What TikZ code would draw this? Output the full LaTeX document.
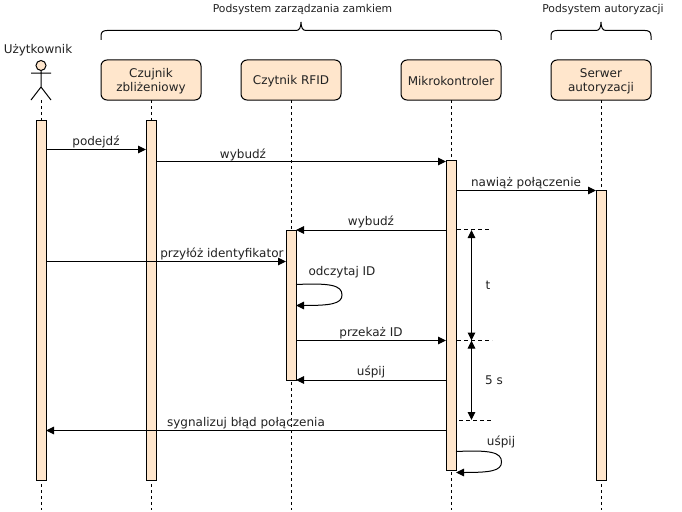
\documentclass[tikz,border=0pt]{standalone}
\usepackage{fontspec}
\setmainfont{DejaVu Sans}
\usetikzlibrary{arrows.meta,calc}
\definecolor{peach}{HTML}{FFE6CC}
\definecolor{ink}{HTML}{222222}
\newcommand\lowered[1]{\raisebox{0pt}[\dimexpr\height+3pt\relax][\depth]{#1}}
\tikzset{
  x=1pt,y=-1pt,
  every node/.style={font=\fontsize{12}{14}\selectfont,text=ink,inner sep=0pt,outer sep=0pt},
  lbl/.style={anchor=center,align=center},
  small/.style={font=\fontsize{10.8}{13}\selectfont},
  box/.style={draw=black,fill=peach,rounded corners=6pt,minimum width=100pt,minimum height=40pt,align=center,line width=1pt},
  bar/.style={draw=black,fill=peach,minimum width=10pt,line width=1pt},
  life/.style={dashed,dash pattern=on 3pt off 3pt,line width=1pt},
  msg/.style={-{Triangle[length=8pt,width=7.5pt]},line width=1pt},
  dbl/.style={{Triangle[length=8pt,width=7.5pt]}-{Triangle[length=8pt,width=7.5pt]},line width=1pt},
  guide/.style={dashed,dash pattern=on 4pt off 3pt,line width=1pt},
  brace/.style={line width=1pt},
  over/.style={above=2pt},
}
\begin{document}
\begin{tikzpicture}
\useasboundingbox (0,0) rectangle (682,511);
\fill[white] (0,0) rectangle (682,511);
% lifeline ends
\coordinate (e1) at (41,510); \coordinate (e2) at (151,510); \coordinate (e3) at (291,510);
\coordinate (e4) at (451,510); \coordinate (e5) at (601,510);
% head boxes
\node[box] (czujnik) at (151,80) {\lowered{Czujnik}\\zbliżeniowy};
\node[box] (rfid) at (291,80) {\lowered{Czytnik RFID}};
\node[box] (mikro) at (451,80) {\lowered{Mikrokontroler}};
\node[box] (serwer) at (601,80) {\lowered{Serwer}\\autoryzacji};
% actor
\node[lbl] (user) at (38,50.5) {Użytkownik};
\node[draw=black,fill=peach,circle,minimum size=10pt,line width=1pt] (head) at (41,65.5) {};
\coordinate (hip) at (41,87);
\coordinate (armL) at (31,73); \coordinate (armR) at (51,73);
\coordinate (legL) at (31,100); \coordinate (legR) at (51,100);
\coordinate (foot) at (41,100);
\draw[line width=1pt] (head.south) -- (hip) (armL) -- (armR) (legL) -- (hip) -- (legR);
% lifelines
\draw[life] (foot) -- (e1);
\draw[life] (czujnik.south) -- (e2);
\draw[life] (rfid.south) -- (e3);
\draw[life] (mikro.south) -- (e4);
\draw[life] (serwer.south) -- (e5);
% activations
\node[bar,minimum height=360pt] (a1) at (41,300) {};
\node[bar,minimum height=360pt] (a2) at (151,300) {};
\node[bar,minimum height=150pt] (a3) at (291,305) {};
\node[bar,minimum height=310pt] (a4) at (451,315) {};
\node[bar,minimum height=290pt] (a5) at (601,335) {};
% rows
\coordinate (r1) at (0,149.5); \coordinate (r2) at (0,161.5); \coordinate (r3) at (0,190.5);
\coordinate (r4) at (0,230); \coordinate (r5) at (0,261.5); \coordinate (r6) at (0,340.5);
\coordinate (r7) at (0,380); \coordinate (r8) at (0,430.5);
% messages
\draw[msg] (a1.east |- r1) -- node[over] {podejdź} (a2.west |- r1);
\draw[msg] (a2.east |- r2) -- node[above=1pt,pos=.30] {wybudź} (a4.west |- r2);
\draw[msg] (a4.east |- r3) -- node[over] {nawiąż połączenie} (a5.west |- r3);
\draw[msg] (a4.west |- r4) -- node[over] {wybudź} (a3.east |- r4);
\draw[msg] (a1.east |- r5) -- node[over,pos=.733] {przyłóż identyfikator} (a3.west |- r5);
\draw[msg] (a3.east |- r6) -- node[over] {przekaż ID} (a4.west |- r6);
\draw[msg] (a4.west |- r7) -- node[over] {uśpij} (a3.east |- r7);
\draw[msg] (a4.west |- r8) -- node[over] {sygnalizuj błąd połączenia} (a1.east |- r8);
% self calls
\coordinate (s1) at (296,284.5); \coordinate (s2) at (296,305.5);
\draw[msg] (s1) .. controls (330,283) and (342,285) .. (342,295) .. controls (342,304) and (330,305.5) .. (s2);
\node[lbl] (sl1) at (342,272.5) {odczytaj ID};
\coordinate (s3) at (456,451.5); \coordinate (s4) at (456,472.5);
\draw[msg] (s3) .. controls (490,450) and (501.5,452) .. (501.5,462) .. controls (501.5,471) and (490,472.5) .. (s4);
\node[lbl] (sl2) at (501,442) {uśpij};
% timing guides
\coordinate (g1a) at (457,229.5); \coordinate (g1b) at (490,229.5);
\coordinate (g2a) at (457,340.5); \coordinate (g2b) at (492,340.5);
\coordinate (g3a) at (459,420.5); \coordinate (g3b) at (492,420.5);
\draw[guide] (g1a) -- (g1b);
\draw[guide] (g2a) -- (g2b);
\draw[guide] (g3a) -- (g3b);
\coordinate (t1) at (471.5,230); \coordinate (t2) at (471.5,340.5); \coordinate (t3) at (471.5,420);
\draw[dbl] (t1) -- (t2);
\draw[dbl] (t2) -- (t3);
\node[lbl] (tl) at (488,285) {t};
\node[lbl] (fl) at (494,380) {5 s};
% braces
\coordinate (b1L) at (101,40); \coordinate (b1R) at (501,40); \coordinate (b1T) at (301,22);
\coordinate (b2L) at (551,40); \coordinate (b2R) at (651,40); \coordinate (b2T) at (601,22);
\draw[brace] (b1L) -- (101,36) .. controls (101,32) and (103,30.5) .. (107,30.5) -- (296,30.5) .. controls (299,30.5) and (301,28) .. (b1T) .. controls (301,28) and (303,30.5) .. (306,30.5) -- (495,30.5) .. controls (499,30.5) and (501,32) .. (501,36) -- (b1R);
\draw[brace] (b2L) -- (551,36) .. controls (551,32) and (553,30.5) .. (557,30.5) -- (596,30.5) .. controls (599,30.5) and (601,28) .. (b2T) .. controls (601,28) and (603,30.5) .. (606,30.5) -- (645,30.5) .. controls (649,30.5) and (651,32) .. (651,36) -- (b2R);
\node[lbl,small] (p1) at (302.5,9.5) {Podsystem zarządzania zamkiem};
\node[lbl,small] (p2) at (603,9.5) {Podsystem autoryzacji};
\end{tikzpicture}
\end{document}
